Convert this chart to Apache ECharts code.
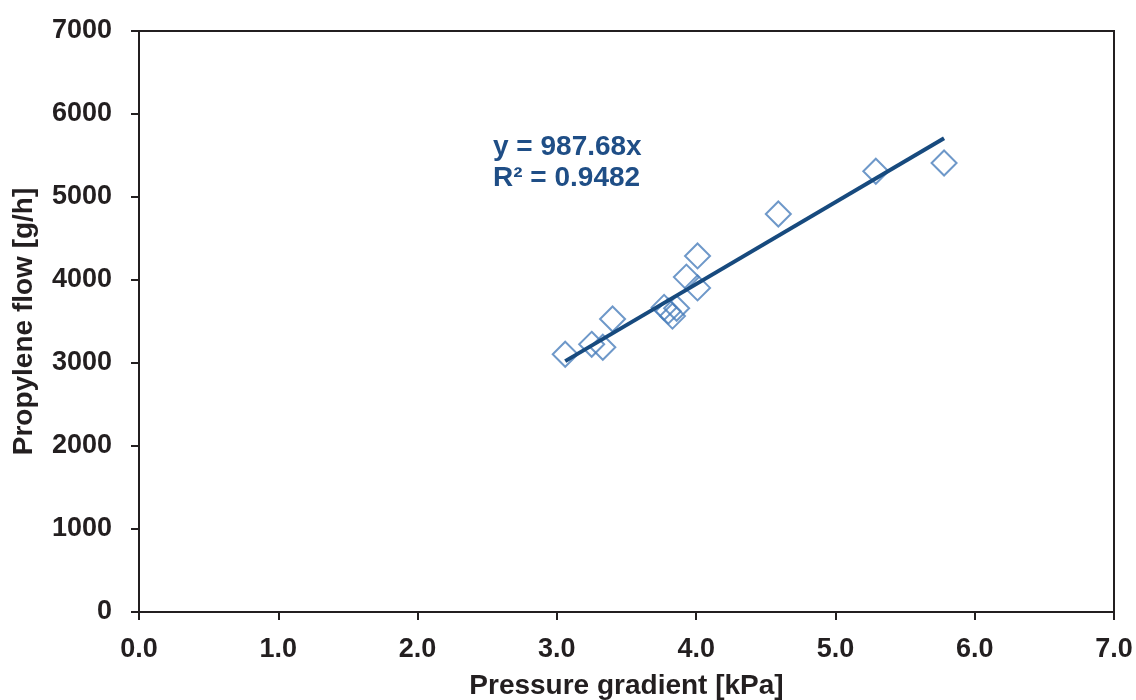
<!DOCTYPE html>
<html>
<head>
<meta charset="utf-8">
<script src="https://cdn.jsdelivr.net/npm/echarts@6/dist/echarts.min.js"></script>
<style>html,body{margin:0;padding:0;background:#fff;}#c{width:1136px;height:700px;}</style>
</head>
<body>
<div id="c"></div>
<script>
// Data
const pressureGradient = [3.06, 3.25, 3.33, 3.40, 3.77, 3.80, 3.83, 3.86, 3.93, 4.01, 4.01, 4.59, 5.29, 5.78];
const propyleneFlow   = [3105, 3225, 3190, 3530, 3670, 3625, 3565, 3660, 4035, 3905, 4290, 4795, 5310, 5410];
const trendSlope = 987.68;
const trendRange = [3.06, 5.78];
const xTicks = ['0.0','1.0','2.0','3.0','4.0','5.0','6.0','7.0'];
const yTicks = ['0','1000','2000','3000','4000','5000','6000','7000'];
const eqLabel = 'y = 987.68x';
const r2Label = 'R² = 0.9482';

const points = pressureGradient.map((x, i) => [x, propyleneFlow[i]]);
const trend = trendRange.map(x => [x, trendSlope * x]);

const txt = '#231f20';
const font = '"Liberation Sans", Arial, sans-serif';
const chart = echarts.init(document.getElementById('c'), null, {renderer: 'canvas'});
chart.setOption({
  animation: false,
  backgroundColor: '#fff',
  grid: {left: 139, right: 22, top: 31, bottom: 88, containLabel: false, outerBoundsMode: 'none',
    show: true, borderColor: txt, borderWidth: 2, backgroundColor: 'transparent'},
  xAxis: {
    type: 'value', min: 0, max: 7, interval: 1,
    name: 'Pressure gradient [kPa]', nameLocation: 'middle', nameGap: 60,
    nameTextStyle: {fontFamily: font, fontWeight: 'bold', fontSize: 28, color: txt},
    axisLine: {lineStyle: {color: txt, width: 2}},
    axisTick: {show: true, length: 8, lineStyle: {color: txt, width: 2}},
    axisLabel: {fontFamily: font, fontWeight: 'bold', fontSize: 27, color: txt, margin: 24,
      formatter: v => xTicks[Math.round(v)]},
    splitLine: {show: false}
  },
  yAxis: {
    type: 'value', min: 0, max: 7000, interval: 1000,
    name: 'Propylene flow [g/h]', nameLocation: 'middle', nameGap: 101,
    nameTextStyle: {fontFamily: font, fontWeight: 'bold', fontSize: 28, color: txt},
    axisLine: {show: true, lineStyle: {color: txt, width: 2}},
    axisTick: {show: true, length: 8, lineStyle: {color: txt, width: 2}},
    axisLabel: {fontFamily: font, fontWeight: 'bold', fontSize: 27, color: txt, margin: 27,
      formatter: v => yTicks[Math.round(v / 1000)]},
    splitLine: {show: false}
  },
  series: [
    {
      type: 'scatter', data: points, symbol: 'diamond', symbolSize: 25,
      itemStyle: {color: 'transparent', borderColor: '#4a7ebb', borderWidth: 2}
    },
    {
      type: 'line', data: trend, showSymbol: false, symbol: 'none',
      lineStyle: {color: '#174a7e', width: 4}, z: 3
    }
  ],
  graphic: [
    {type: 'text', x: 493, y: 147, style: {text: eqLabel, fontFamily: font, fontWeight: 'bold', fontSize: 28, fill: '#1f4e86', verticalAlign: 'middle'}},
    {type: 'text', x: 493, y: 178, style: {text: r2Label, fontFamily: font, fontWeight: 'bold', fontSize: 28, fill: '#1f4e86', verticalAlign: 'middle'}}
  ]
});
</script>
</body>
</html>
